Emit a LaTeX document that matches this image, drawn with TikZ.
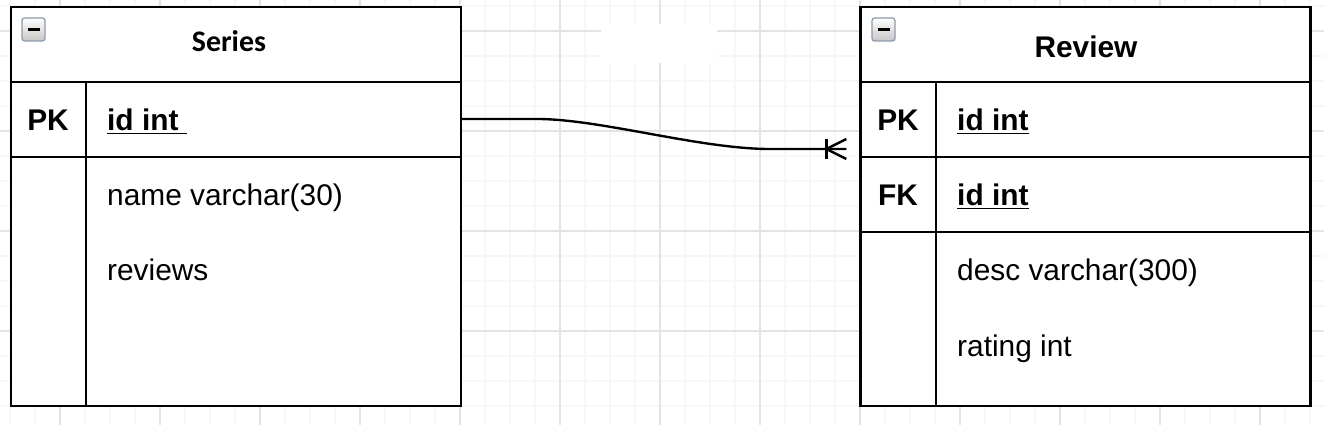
\documentclass[tikz,border=0pt]{standalone}
\usepackage{fontspec}
\setmainfont{Liberation Sans}
\newfontfamily\titlefont{Carlito}
\usetikzlibrary{calc}
\definecolor{gridmin}{RGB}{247,247,247}
\definecolor{gridmaj}{RGB}{228,228,228}
\definecolor{togglegray}{RGB}{140,155,172}

\begin{document}
\begin{tikzpicture}[x=0.02cm,y=-0.02cm,line width=1.35pt,
  entity/.style={draw,fill=white,inner sep=0pt,minimum width=9cm,minimum height=7.98cm},
  title/.style={font=\bfseries\fontsize{17}{20}\selectfont},
  keycol/.style={anchor=base,inner sep=0pt,font=\bfseries\fontsize{17}{20}\selectfont},
  field/.style={anchor=base west,inner sep=0pt,font=\fontsize{17}{20}\selectfont},
  toggle/.style={draw=togglegray,line width=0.7pt,rounded corners=1.5pt,top color=white,bottom color=gray!45,minimum size=0.46cm,inner sep=0pt}]

\useasboundingbox (0,0) rectangle (1324,425);

% background grid
\foreach \x in {10,35,...,1324}{
  \draw[gridmin,line width=0.6pt] (\x,0) -- (\x,425);
}
\foreach \y in {6,31,...,425}{
  \draw[gridmin,line width=0.6pt] (0,\y) -- (1324,\y);
}
\foreach \x in {60,160,...,1324}{
  \draw[gridmaj,line width=0.6pt] (\x,0) -- (\x,425);
}
\foreach \y in {31,131,231,331}{
  \draw[gridmaj,line width=0.6pt] (0,\y) -- (1324,\y);
}
\fill[white] (601,24) rectangle (717,63);

% Series
\node[entity] (series) at (236,206.5) {};
\draw (series.west |- 0,82) -- (series.east |- 0,82);
\draw (series.west |- 0,157) -- (series.east |- 0,157);
\draw (86,82) -- (series.south -| 86,0);
\node[toggle] (s-toggle) at (33.5,29.5) {};
\draw[line width=1.5pt] ($(s-toggle.center)+(-6,0)$) -- ($(s-toggle.center)+(6,0)$);
\node[title] (s-title) at (229,41) {\titlefont Series};
\node[keycol] (s-pk) at (48,131) {PK};
\node[field,font=\bfseries\fontsize{17}{20}\selectfont] (s-id) at (106,131) {\underline{id int\ }};
\node[field] (s-name) at (106,206) {name varchar(30)};
\node[field] (s-rev) at (106,281) {reviews};

% Review
\node[entity] (review) at (1085.5,206.5) {};
\draw (review.west |- 0,82) -- (review.east |- 0,82);
\draw (review.west |- 0,157) -- (review.east |- 0,157);
\draw (review.west |- 0,232) -- (review.east |- 0,232);
\draw (936,82) -- (review.south -| 936,0);
\node[toggle] (r-toggle) at (883.5,29.5) {};
\draw[line width=1.5pt] ($(r-toggle.center)+(-6,0)$) -- ($(r-toggle.center)+(6,0)$);
\node[title] (r-title) at (1086,47) {Review};
\node[keycol] (r-pk) at (898,131) {PK};
\node[keycol] (r-fk) at (898,206) {FK};
\node[field,font=\bfseries\fontsize{17}{20}\selectfont] (r-id) at (956,131) {\underline{id int}};
\node[field,font=\bfseries\fontsize{17}{20}\selectfont] (r-fid) at (956,206) {\underline{id int}};
\node[field] (r-desc) at (956,281) {desc varchar(300)};
\node[field] (r-rating) at (956,356) {rating int};

% relation
\coordinate (s-out) at (series.east |- 0,119);
\coordinate (r-in) at (review.west |- 0,149);
\draw (s-out) -- ++(75,0) .. controls (600,119) and (700,149) .. (770,149) -- ($(r-in)+(-13,0)$);
\draw ($(r-in)+(-33,-10)$) -- ($(r-in)+(-33,10)$);
\draw ($(r-in)+(-13,-10)$) -- ($(r-in)+(-33,0)$) -- ($(r-in)+(-13,10)$);

\end{tikzpicture}
\end{document}
